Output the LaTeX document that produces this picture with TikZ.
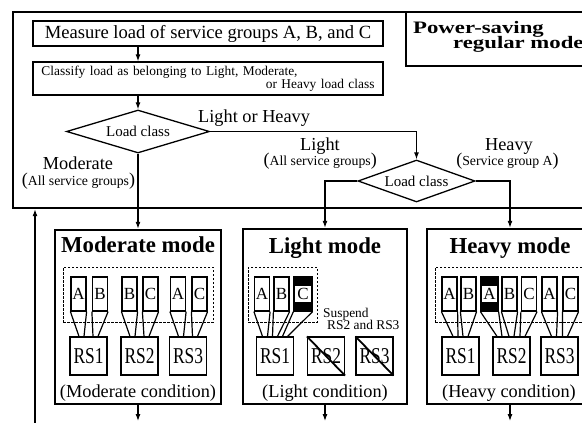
\documentclass[tikz,border=0pt]{standalone}
\usepackage{fontspec}
\usepackage{graphicx}
\setmainfont{Liberation Serif}
\usetikzlibrary{shapes.geometric,arrows.meta,calc}

\newcommand{\fsz}[1]{\fontsize{#1}{#1}\selectfont}
\newcommand{\bigparen}[1]{{\fsz{18pt}#1}}
\newcommand{\widebold}[1]{\scalebox{1.3}[1]{\bfseries\fsz{17.5pt}#1}}
\newcommand{\tallrs}[1]{\scalebox{1}[1.3]{#1}}

\tikzset{
  procbox/.style={draw, line width=1.3pt, inner sep=0pt},
  modebox/.style={draw, line width=2.4pt, minimum height=175pt, inner sep=0pt},
  decide/.style={draw, diamond, line width=1.3pt, inner sep=0pt, font=\fsz{15pt}},
  flow/.style={-{Latex[length=7pt,width=5pt]}, line width=1.1pt},
  sgbox/.style={draw, line width=1.2pt, minimum width=15pt, minimum height=34pt, inner sep=0pt, font=\fsz{17pt}},
  rsbox/.style={draw, line width=1.2pt, minimum width=37pt, minimum height=38pt, inner sep=0pt, font=\fsz{17.4pt}},
  taper/.style={line width=1.2pt},
  sgframe/.style={draw, line width=1pt, dash pattern=on 2.5pt off 1.5pt, inner sep=0pt},
  branch/.style={font=\fsz{18.3pt}, inner sep=0pt},
  sublabel/.style={font=\fsz{13.8pt}, inner sep=0pt},
  modetitle/.style={font=\bfseries\fsz{22.8pt}, inner sep=0pt},
}

\begin{document}
\begin{tikzpicture}[x=1pt,y=1pt,yscale=-1]
\useasboundingbox (0,0) rectangle (582,423);
\clip (0,0) rectangle (582,423);

%Shape: Power-saving regular mode frame
\node[draw, line width=2.4pt, minimum width=587pt, minimum height=196pt, inner sep=0pt] (regular) at (306.5,110) {};
\node[procbox, minimum width=194pt, minimum height=54pt] (pwrbox) at (503,39) {};
% Text Node
\node[inner sep=0pt, anchor=base west] (pwr1) at (413,33) {\widebold{Power-saving}};
\node[inner sep=0pt, anchor=base west] (pwr2) at (453,48.3) {\widebold{regular mode}};

%Shape: steps
\node[procbox, minimum width=350pt, minimum height=25pt, font=\fsz{18.6pt}] (measure) at (208,33.5) {Measure load of service groups A, B, and C};
\node[procbox, minimum width=350pt, minimum height=33pt, text width=333pt, align=left, font=\fontsize{13.4pt}{13.3pt}\selectfont] (classify) at (208,78.5) {Classify load as belonging to Light, Moderate,\\\hspace*{\fill}or Heavy load class};

%Shape: decisions
\node[decide, aspect=3.3, minimum width=143pt, minimum height=43pt] (d1) at (138,131.5) {Load class};
\node[decide, aspect=2.8, minimum width=117pt, minimum height=42pt] (d2) at (416.5,181) {Load class};

% Text Node
\node[branch, anchor=base west] (lh) at (198,122.5) {Light or Heavy};
\node[branch, anchor=base] (modL) at (78,169) {Moderate};
\node[sublabel, anchor=base] (modS) at (78.5,185) {\bigparen{(}All service groups\bigparen{)}};
\node[branch, anchor=base] (ltL) at (320,150.7) {Light};
\node[sublabel, anchor=base east] (ltS) at (377,165.7) {\bigparen{(}All service groups\bigparen{)}};
\node[branch, anchor=base] (hvL) at (509,150.7) {Heavy};
\node[sublabel, anchor=base] (hvS) at (507.5,165.7) {\bigparen{(}Service group A\bigparen{)}};

%Shape: modes
\node[modebox, minimum width=166pt, minimum height=174pt] (moderate) at (138,317) {};
\node[modebox, minimum width=164pt] (light) at (325,316.5) {};
\node[modebox, minimum width=166pt] (heavy) at (510,316.5) {};
\node[modetitle, anchor=base] (modT) at (138,252.5) {Moderate mode};
\node[modetitle, anchor=base] (ltT) at (325,253.5) {Light mode};
\node[modetitle, anchor=base] (hvT) at (510,253.5) {Heavy mode};

%Shape: dashed service group frames
\node[sgframe, minimum width=150pt, minimum height=55pt] (modG) at (138,294.5) {};
\node[sgframe, minimum width=69pt, minimum height=55pt] (ltG) at (282.5,294.5) {};
\node[sgframe, minimum width=150pt, minimum height=55pt] (hvG) at (510,294.5) {};

%Shape: service groups
\foreach \n/\x/\t in {mA1/78.5/A, mB1/100/B, mB2/129.5/B, mC2/150.5/C, mA3/178/A, mC3/199.5/C,
    lA1/262/A, lB1/281.5/B, hA1/449.5/A, hB1/468.5/B, hB2/509.5/B, hC2/529/C, hA3/549.5/A, hC3/570.5/C}
  \node[sgbox] (\n) at (\x,294) {\t};
\foreach \n/\x/\t/\w in {lC1/303/C/18, hA2/489.5/A/17}{
  \node[sgbox, fill=black, minimum width=\w pt] (\n) at (\x,294) {};
  \fill[white] ($(\n.north west)+(1.8,10)$) rectangle ($(\n.south east)+(-1.8,-10)$);
  \node[font=\fsz{17pt}, inner sep=0pt] (\n t) at (\x,294) {\t};
}

%Shape: servers
\foreach \n/\x/\t in {mRS1/88.5/1, mRS2/139.5/2, mRS3/188/3, lRS1/275/1, lRS2/326/2, lRS3/374.5/3,
    hRS1/460.5/1, hRS2/511.5/2, hRS3/559.5/3}
  \node[rsbox] (\n) at (\x,356) {\tallrs{RS\t}};
\draw[line width=1.8pt] (lRS2.north west) -- (lRS2.south east);
\draw[line width=1.8pt] (lRS3.north west) -- (lRS3.south east);
% Text Node
\node[font=\fsz{13.4pt}, inner sep=0pt, anchor=base west] (susp1) at (323,317.5) {Suspend};
\node[font=\fsz{13.4pt}, inner sep=0pt, anchor=base west] (susp2) at (327,329.5) {RS2 and RS3};

%Straight Lines: service groups to servers
\foreach \b/\r/\d in {mA1/mRS1/-7, mB1/mRS1/7, mB2/mRS2/-7, mC2/mRS2/7, mA3/mRS3/-7, mC3/mRS3/7,
    lA1/lRS1/-10, lB1/lRS1/0, lC1/lRS1/10, hA1/hRS1/-5, hB1/hRS1/5,
    hA2/hRS2/-12, hB2/hRS2/0, hC2/hRS2/11, hA3/hRS3/-5.5, hC3/hRS3/5.5}{
  \draw[taper] (\b.south west) -- ($(\r.north)+(\d-2.5,0)$);
  \draw[taper] (\b.south east) -- ($(\r.north)+(\d+2.5,0)$);
}

% Text Node
\node[branch, anchor=base] (modC) at (138,397) {(Moderate condition)};
\node[branch, anchor=base] (ltC) at (325,397) {(Light condition)};
\node[branch, anchor=base] (hvC) at (509,397) {(Heavy condition)};

%Straight Lines: flow
\draw[flow] (d1 |- measure.south) -- (d1 |- classify.north);
\draw[flow] (d1 |- classify.south) -- (d1.north);
\draw[flow] (d1.east) -| (d2.north);
\draw[flow] (d1.south) -- (moderate.north);
\draw[flow] (d2.west) -| (light.north);
\draw[flow] (d2.east) -| (heavy.north);
\coordinate (modOut) at (138,421);
\coordinate (ltOut) at (325,421);
\coordinate (hvOut) at (510,421);
\coordinate (loop) at (35,423);
\draw[flow] (moderate.south) -- (modOut);
\draw[flow] (light.south) -- (ltOut);
\draw[flow] (heavy.south) -- (hvOut);
\draw[flow] (loop) -- (loop |- regular.south);

\end{tikzpicture}
\end{document}
